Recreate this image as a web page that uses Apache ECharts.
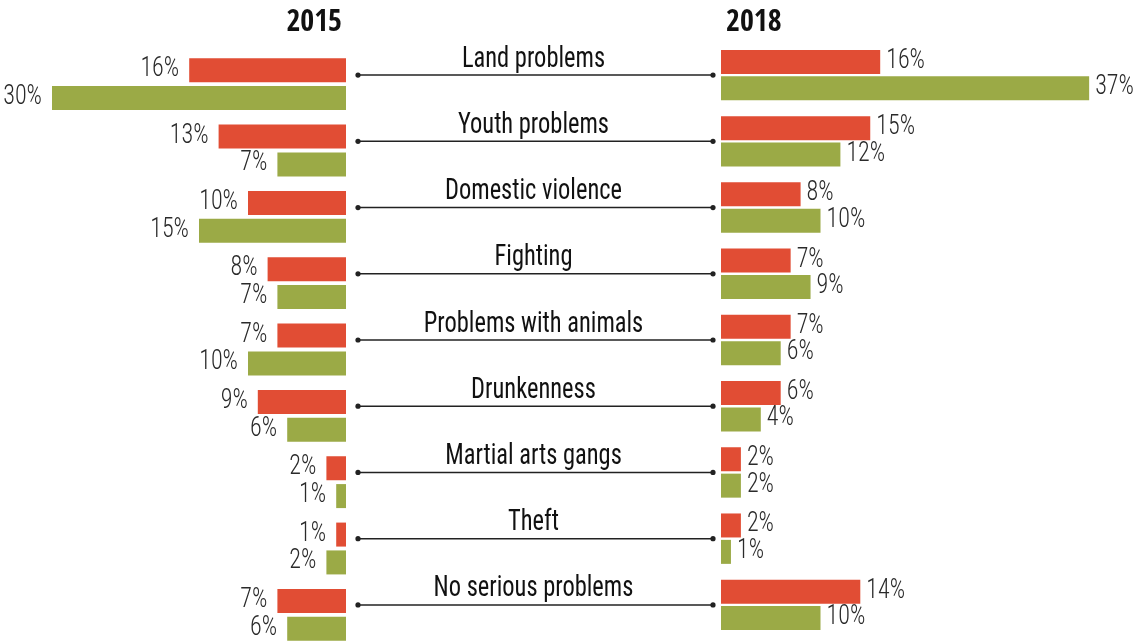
<!DOCTYPE html>
<html>
<head>
<meta charset="utf-8">
<style>html,body{margin:0;padding:0;background:#fff;overflow:hidden}#c{width:1143px;height:670px}</style>
<script src="https://cdn.jsdelivr.net/npm/echarts@6/dist/echarts.min.js"></script>
</head>
<body>
<div id="c"></div>
<script>
const categories = ['Land problems','Youth problems','Domestic violence','Fighting','Problems with animals','Drunkenness','Martial arts gangs','Theft','No serious problems'];
const years = ['2015','2018'];
const red2015 = [16,13,10,8,7,9,2,1,7];
const green2015 = [30,7,15,7,10,6,1,2,6];
const red2018 = [16,15,8,7,7,6,2,2,14];
const green2018 = [37,12,10,9,6,4,2,1,10];

const FONT = "'Roboto Condensed', 'DejaVu Sans Condensed', sans-serif";
const TITLE_FONT = "'Open Sans Condensed', 'Roboto Condensed', sans-serif";
const RED = '#E14D34', GREEN = '#9BAA46';
const BAR_W = 24;

const chart = echarts.init(document.getElementById('c'), null, {renderer:'canvas'});

function labelSeries(values, axisIdx, side, sign, gapPx) {
  return {
    type:'custom', xAxisIndex:axisIdx, yAxisIndex:axisIdx, clip:false, z:5,
    data: values.map((v,i)=>[v,i]),
    encode:{x:0, y:1},
    renderItem:(params, api) => {
      const v = api.value(0), idx = api.value(1);
      const p = api.coord([v, idx]);
      const off = sign * (BAR_W + gapPx) / 2;
      return {
        type:'text',
        x: p[0] + (side === 'left' ? -10 : 6),
        y: p[1] + off - 1,
        scaleX: 0.86,
        style:{text: v + '%', x:0, y:0, align: side === 'left' ? 'right' : 'left', verticalAlign:'middle',
               fontFamily:FONT, fontSize:28, fontWeight:300, fill:'#2a2a2a'}
      };
    }
  };
}

const option = {
  animation:false,
  backgroundColor:'#fff',
  title:[
    {text:years[0], right:796, top:3, textStyle:{fontFamily:TITLE_FONT, fontSize:30, fontWeight:'bold', color:'#111'}},
    {text:years[1], left:721, top:3, textStyle:{fontFamily:TITLE_FONT, fontSize:30, fontWeight:'bold', color:'#111'}}
  ],
  grid:[
    {left:3, width:343, top:51, height:597},
    {left:721, width:398, top:42, height:596},
    {left:358, right:430, top:42, height:596}
  ],
  xAxis:[
    {gridIndex:0, type:'value', min:0, max:35, inverse:true, show:false},
    {gridIndex:1, type:'value', min:0, max:40, show:false},
    {gridIndex:2, type:'value', min:0, max:1, show:false}
  ],
  yAxis:[0,1,2].map(g => ({gridIndex:g, type:'category', data:categories, inverse:true, show:false})),
  series:[
    {type:'bar', name:'2015 A', xAxisIndex:0, yAxisIndex:0, data:red2015, barWidth:BAR_W, barGap:'16%', itemStyle:{color:RED}},
    {type:'bar', name:'2015 B', xAxisIndex:0, yAxisIndex:0, data:green2015, barWidth:BAR_W, barGap:'16%', itemStyle:{color:GREEN}},
    {type:'bar', name:'2018 A', xAxisIndex:1, yAxisIndex:1, data:red2018, barWidth:BAR_W, barGap:'10%', itemStyle:{color:RED}},
    {type:'bar', name:'2018 B', xAxisIndex:1, yAxisIndex:1, data:green2018, barWidth:BAR_W, barGap:'10%', itemStyle:{color:GREEN}},
    labelSeries(red2015, 0, 'left', -1, BAR_W*0.16),
    labelSeries(green2015, 0, 'left', 1, BAR_W*0.16),
    labelSeries(red2018, 1, 'right', -1, BAR_W*0.10),
    labelSeries(green2018, 1, 'right', 1, BAR_W*0.10),
    {type:'custom', xAxisIndex:2, yAxisIndex:2, clip:false,
      data: categories.map((c,i)=>[0,i]),
      encode:{x:0, y:1},
      renderItem:(params, api) => {
        const idx = api.value(1);
        const p0 = api.coord([0, idx]);
        const p1 = api.coord([1, idx]);
        const y = p0[1];
        return {type:'group', children:[
          {type:'line', shape:{x1:p0[0], y1:y, x2:p1[0], y2:y}, style:{stroke:'#222', lineWidth:1.5}},
          {type:'circle', shape:{cx:p0[0], cy:y, r:2.6}, style:{fill:'#222'}},
          {type:'circle', shape:{cx:p1[0], cy:y, r:2.6}, style:{fill:'#222'}},
          {type:'text', x:(p0[0]+p1[0])/2 - 2, y:y - 16, scaleX:0.815,
           style:{text:categories[idx], x:0, y:0, align:'center', verticalAlign:'middle', fontFamily:FONT, fontSize:30, fill:'#111'}}
        ]};
      }
    }
  ]
};
chart.setOption(option);
</script>
</body>
</html>
